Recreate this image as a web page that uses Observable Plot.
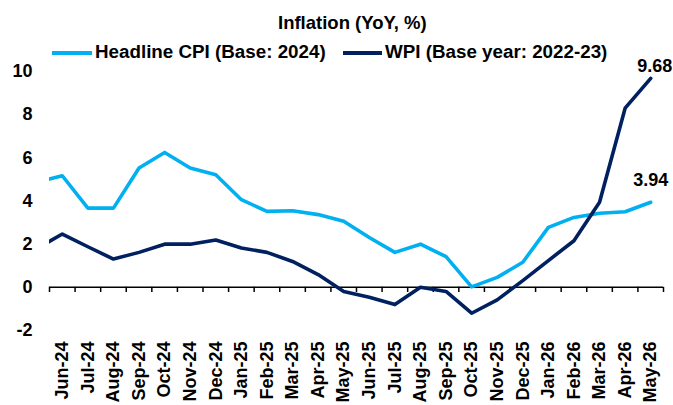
<!DOCTYPE html>
<html>
<head>
<meta charset="utf-8">
<script src="https://cdn.jsdelivr.net/npm/d3@7"></script>
<script src="https://cdn.jsdelivr.net/npm/@observablehq/plot@0.6"></script>
<style>
  html, body { margin: 0; padding: 0; background: #fff; }
  body { width: 673px; height: 405px; overflow: hidden; font-family: "Liberation Sans", Arial, sans-serif; }
  #wrap { position: relative; width: 673px; height: 405px; }
  #chart { position: absolute; left: 0; top: 0; }
  .abs { position: absolute; font-weight: bold; color: #000; white-space: nowrap; line-height: 1; }
  #title { left: 278px; top: 14px; font-size: 18.5px; }
  .sw { position: absolute; height: 4px; }
  .lt { font-size: 18.8px; top: 43px; }
</style>
</head>
<body>
<div id="wrap">
  <div id="chart"></div>
  <div id="title" class="abs">Inflation (YoY, %)</div>
  <div id="legend"></div>
</div>
<script>
// Categories (May-24 is the lead-in point, cut at the axis edge)
const months = ["May-24","Jun-24","Jul-24","Aug-24","Sep-24","Oct-24","Nov-24","Dec-24","Jan-25","Feb-25","Mar-25","Apr-25","May-25","Jun-25","Jul-25","Aug-25","Sep-25","Oct-25","Nov-25","Dec-25","Jan-26","Feb-26","Mar-26","Apr-26","May-26"];
const visibleMonths = months.slice(1);
const cpi = [4.87, 5.17, 3.67, 3.67, 5.53, 6.25, 5.53, 5.22, 4.06, 3.52, 3.55, 3.37, 3.06, 2.31, 1.62, 2.00, 1.42, 0.02, 0.46, 1.16, 2.78, 3.24, 3.43, 3.50, 3.94];
const wpi = [1.79, 2.47, 1.88, 1.31, 1.62, 2.00, 2.00, 2.19, 1.82, 1.62, 1.20, 0.59, -0.19, -0.46, -0.80, 0.00, -0.19, -1.20, -0.58, 0.31, 1.24, 2.16, 3.94, 8.30, 9.68];
const seriesNames = ["Headline CPI (Base: 2024)", "WPI (Base year: 2022-23)"];
const colors = ["#00B0F0", "#002060"];
const yTicks = [-2, 0, 2, 4, 6, 8, 10];

// index: Jun-24 = 0
const idx = months.map((m, i) => i - 1);
const data = months.flatMap((m, i) => [
  {i: idx[i], month: m, series: seriesNames[0], value: cpi[i]},
  {i: idx[i], month: m, series: seriesNames[1], value: wpi[i]}
]);
const boundaries = d3.range(visibleMonths.length + 1).map(k => k - 0.5);
const lastIdx = idx[idx.length - 1];
const wpiLabel = [{i: lastIdx, value: wpi[wpi.length - 1], text: wpi[wpi.length - 1].toFixed(2)}];
const cpiLabel = [{i: lastIdx, value: cpi[cpi.length - 1], text: cpi[cpi.length - 1].toFixed(2)}];

const chart = Plot.plot({
  width: 673,
  height: 405,
  marginLeft: 49,
  marginRight: 10,
  marginTop: 71,
  marginBottom: 75,
  style: {fontFamily: "'Liberation Sans', Arial, sans-serif", color: "#000", background: "#fff"},
  x: {type: "linear", domain: [-0.5, visibleMonths.length - 0.5], axis: null},
  y: {domain: [-2, 10], axis: null},
  color: {domain: seriesNames, range: colors},
  marks: [
    Plot.axisY({ticks: yTicks, tickSize: 0, tickPadding: 17, fontSize: 18, fontWeight: "bold", tickFormat: d => d, label: null}),
    Plot.axisX({ticks: visibleMonths.map((m, k) => k), tickFormat: k => visibleMonths[k], tickRotate: -90, tickSize: 0, tickPadding: 11, fontSize: 18, fontWeight: "bold", label: null}),
    Plot.ruleY([0], {stroke: "#000", strokeWidth: 1.5}),
    Plot.ruleX(boundaries, {x: d => d, y1: 0, y2: -0.24, stroke: "#000", strokeWidth: 1.5}),
    Plot.line(data, {x: "i", y: "value", z: "series", stroke: "series", strokeWidth: 3.6, clip: true}),
    Plot.text(wpiLabel, {x: "i", y: "value", text: "text", dy: -12, dx: 4, fontSize: 18, fontWeight: "bold", fill: "#000"}),
    Plot.text(cpiLabel, {x: "i", y: "value", text: "text", dy: -22, dx: 0, fontSize: 18, fontWeight: "bold", fill: "#000"})
  ]
});
document.getElementById("chart").appendChild(chart);

// Legend
const legend = document.getElementById("legend");
const swLeft = [52, 343], swWidth = [40, 39], txLeft = [95, 385];
seriesNames.forEach((name, k) => {
  const sw = document.createElement("div");
  sw.className = "sw";
  sw.style.left = swLeft[k] + "px";
  sw.style.top = "51px";
  sw.style.width = swWidth[k] + "px";
  sw.style.background = colors[k];
  legend.appendChild(sw);
  const t = document.createElement("div");
  t.className = "abs lt";
  t.style.left = txLeft[k] + "px";
  t.textContent = name;
  legend.appendChild(t);
});
</script>
</body>
</html>
